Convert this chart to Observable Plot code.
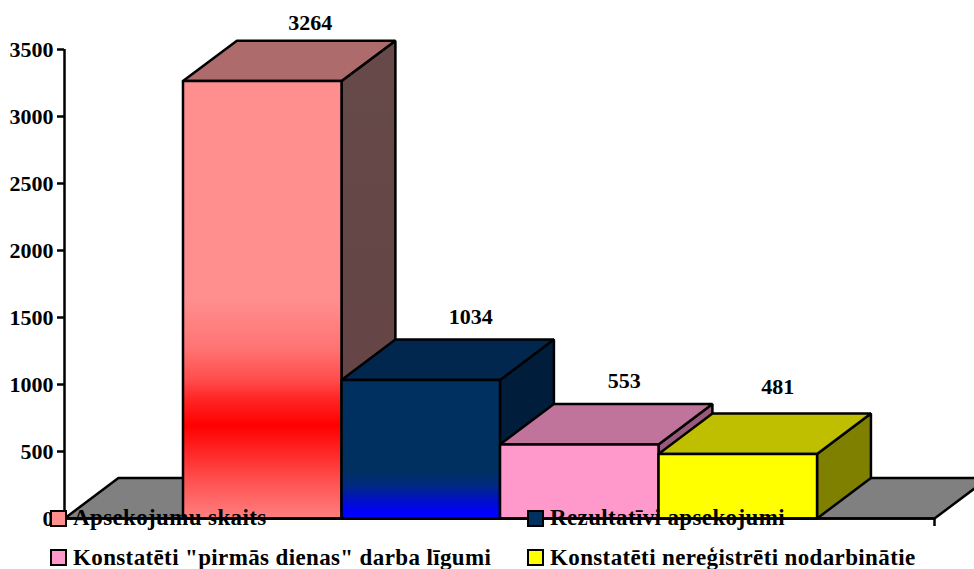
<!DOCTYPE html>
<html>
<head>
<meta charset="utf-8">
<script src="https://cdn.jsdelivr.net/npm/d3@7"></script>
<script src="https://cdn.jsdelivr.net/npm/@observablehq/plot@0.6"></script>
<style>
html,body{margin:0;padding:0;background:#fff;overflow:hidden}
#wrap{position:relative;width:974px;height:569px}
#wrap svg{position:absolute;left:0;top:0;display:block}
.lg{position:absolute;display:flex;align-items:center;font:bold 23px "Liberation Serif",serif;letter-spacing:.37px;color:#000;white-space:nowrap;height:24px}
.lg i{display:block;width:13px;height:13px;border:2px solid #000;margin-right:6px}
</style>
</head>
<body>
<div id="wrap"></div>
<script>
const categories = ["Apsekojumu skaits", "Rezultatīvi apsekojumi", "Konstatēti \"pirmās dienas\" darba līgumi", "Konstatēti nereģistrēti nodarbinātie"];
const values = [3264, 1034, 553, 481];
const yTicks = [0, 500, 1000, 1500, 2000, 2500, 3000, 3500];
const frontFill = ["url(#front0)", "url(#front1)", "#ff99cc", "#ffff00"];
const topFill = ["#ad6b6b", "#01274f", "#c0749b", "#bfbf00"];
const sideFill = ["url(#side0)", "#001d3c", "#99597a", "#808000"];
const swatch = ["#ff8f8f", "#00305f", "#ff99cc", "#ffff00"];

// 3-D depth of the bars, in scale units
const depthX = 0.34, depthY = 302;
const xMin = -0.7476, xMax = 4.741;

const poly = (pts, fill) => Plot.line([...pts, pts[0]], {
  x: d => d[0], y: d => d[1], fill, stroke: "#000", strokeWidth: 2.5,
  strokeLinejoin: "miter", curve: "linear"
});

const defs = () => {
  const svg = d3.create("svg:defs");
  const grad = (id, stops) => {
    const g = svg.append("linearGradient").attr("id", id).attr("x1", 0).attr("x2", 0).attr("y1", 0).attr("y2", 1);
    stops.forEach(([o, c]) => g.append("stop").attr("offset", o).attr("stop-color", c));
  };
  grad("front0", [[0, "#ff8f8f"], [0.5, "#ff8e8e"], [0.609, "#ff7474"], [0.684, "#ff4c4c"], [0.723, "#ff2828"], [0.787, "#ff0000"], [0.838, "#ff2020"], [0.913, "#ff5050"], [1, "#ff8080"]]);
  grad("front1", [[0, "#00305f"], [0.65, "#00305f"], [0.76, "#002a80"], [0.87, "#0010c8"], [0.96, "#0000ff"], [1, "#0000ff"]]);
  grad("side0", [[0, "#664949"], [0.7, "#654545"], [0.88, "#6e3030"], [1, "#7c1c1c"]]);
  return svg.node();
};

const marks = [defs];
// floor
marks.push(poly([[xMin, 0], [xMin + depthX, depthY], [xMax + depthX, depthY], [xMax, 0]], "#808080"));
// bars, back to front
values.forEach((v, i) => {
  marks.push(poly([[i + 1, 0], [i + 1 + depthX, depthY], [i + 1 + depthX, v + depthY], [i + 1, v]], sideFill[i]));
  marks.push(poly([[i, v], [i + depthX, v + depthY], [i + 1 + depthX, v + depthY], [i + 1, v]], topFill[i]));
  marks.push(poly([[i, 0], [i, v], [i + 1, v], [i + 1, 0]], frontFill[i]));
});
// axes
marks.push(Plot.ruleX([xMin], {y1: 0, y2: 3500, stroke: "#000", strokeWidth: 2.5}));
marks.push(Plot.ruleY([0], {x1: xMin, x2: xMax, stroke: "#000", strokeWidth: 2.5}));
marks.push(Plot.axisY({
  ticks: yTicks, tickSize: 7, tickPadding: 4, tickFormat: d => String(d),
  stroke: "#000", strokeWidth: 2.5, fill: "#000",
  fontSize: 22, fontWeight: "bold", fontFamily: "Liberation Serif", label: null, marginLeft: 64
}));
marks.push(Plot.axisX({
  ticks: [xMax], tickSize: 8, tickFormat: () => "", stroke: "#000", strokeWidth: 2.5, label: null
}));
// value labels
const labelNudge = [[48, -18], [50, -23], [45, -23], [40, -27]];
values.forEach((v, i) => {
  marks.push(Plot.text([v], {
    x: () => i + 0.5, y: d => d + depthY, text: d => String(d),
    dx: labelNudge[i][0], dy: labelNudge[i][1],
    fontSize: 22, fontWeight: "bold", fontFamily: "Liberation Serif", fill: "#000"
  }));
});

const chart = Plot.plot({
  width: 974, height: 569,
  marginLeft: 64, marginRight: 40, marginTop: 49, marginBottom: 51,
  style: {background: "transparent", overflow: "hidden"},
  x: {type: "linear", domain: [xMin, xMax], axis: null},
  y: {domain: [0, 3500], axis: null},
  marks
});
const wrap = document.getElementById("wrap");
wrap.appendChild(chart);

const legendCols = [50, 527], legendRows = [506, 545.5];
categories.forEach((c, i) => {
  const el = document.createElement("div");
  el.className = "lg";
  el.style.left = legendCols[i % 2] + "px";
  el.style.top = legendRows[i >> 1] + "px";
  const sw = document.createElement("i");
  sw.style.background = swatch[i];
  el.appendChild(sw);
  el.appendChild(document.createTextNode(c));
  wrap.appendChild(el);
});
</script>
</body>
</html>
